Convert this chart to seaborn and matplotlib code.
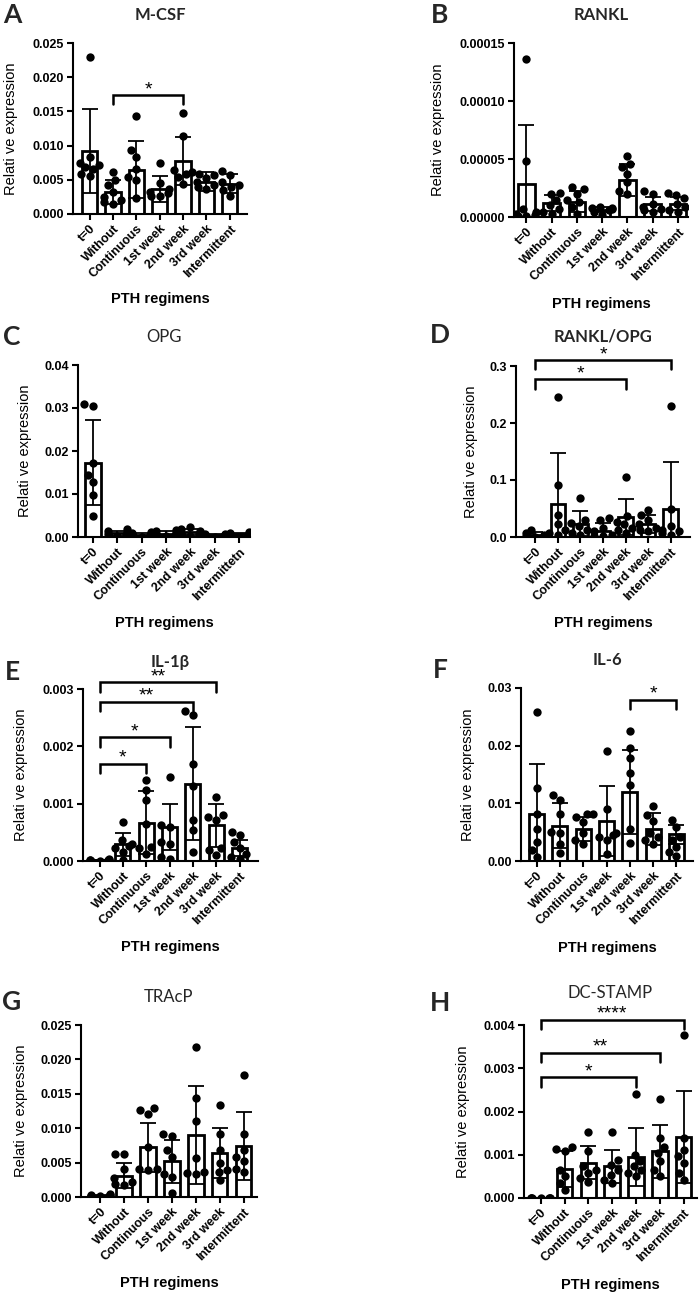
"""PTH regimens - relative gene expression panels (A-H)"""

import matplotlib
matplotlib.use("Agg")
import matplotlib.pyplot as plt
from matplotlib.ticker import MultipleLocator, FormatStrFormatter
import numpy as np
import pandas as pd
import seaborn as sns

# カテゴリ
regimens = ["t=0", "Without", "Continuous", "1st week", "2nd week", "3rd week", "Intermittent"]
regimens_opg = ["t=0", "Without", "Continuous", "1st week", "2nd week", "3rd week", "Intermittetn"]

# A: M-CSF
mcsf_points = [
    [0.0230, 0.0083, 0.0075, 0.0072, 0.0069, 0.0066, 0.0058, 0.0055],
    [0.0061, 0.0049, 0.0042, 0.0032, 0.0025, 0.0020, 0.0018, 0.0015],
    [0.0144, 0.0093, 0.0083, 0.0066, 0.0054, 0.0049, 0.0023],
    [0.0075, 0.0045, 0.0037, 0.0032, 0.0030, 0.0027, 0.0027],
    [0.0148, 0.0114, 0.0064, 0.0061, 0.0059, 0.0054, 0.0044],
    [0.0059, 0.0057, 0.0052, 0.0047, 0.0042, 0.0040, 0.0037],
    [0.0063, 0.0057, 0.0047, 0.0042, 0.0040, 0.0035, 0.0027],
]
mcsf_mean = [0.0092, 0.0032, 0.0065, 0.0037, 0.0078, 0.0047, 0.0044]
mcsf_sd = [0.0062, 0.0018, 0.0042, 0.0019, 0.0035, 0.0014, 0.0014]
mcsf_sig = [(1, 4, 0.0174, "*")]

# B: RANKL
rankl_points = [
    [1.36e-4, 4.85e-5, 7e-6, 4e-6, 3e-6, 1.5e-6, 1e-6, 5e-7],
    [2.1e-5, 2.0e-5, 1.45e-5, 1.0e-5, 7e-6, 4e-6, 3e-6],
    [2.6e-5, 2.45e-5, 2.0e-5, 1.45e-5, 1.3e-5, 8.7e-6, 2.9e-6],
    [9e-6, 8e-6, 7.5e-6, 7e-6, 6e-6, 4e-6, 2e-6],
    [5.3e-5, 4.6e-5, 4.3e-5, 3.75e-5, 3.0e-5, 2.2e-5, 2.0e-5],
    [2.25e-5, 2.0e-5, 1.15e-5, 8.7e-6, 7e-6, 5.8e-6, 4.3e-6],
    [2.1e-5, 1.9e-5, 1.6e-5, 1.15e-5, 8.7e-6, 5.8e-6, 4.3e-6],
]
rankl_mean = [2.83e-5, 1.2e-5, 1.3e-5, 6.3e-6, 3.2e-5, 1.1e-5, 1.15e-5]
rankl_sd = [5.1e-5, 7e-6, 9e-6, 2.4e-6, 1.4e-5, 6e-6, 5.5e-6]
rankl_sig = []

# C: OPG
opg_points = [
    [0.0310, 0.0305, 0.0173, 0.0145, 0.0129, 0.0097, 0.0048],
    [0.0018, 0.0015, 0.0012, 0.0008, 0.0005, 0.0003, 0.0002],
    [0.0011, 0.0009, 0.0007, 0.0005, 0.0004, 0.0002, 0.0001],
    [0.0017, 0.0014, 0.0010, 0.0008, 0.0005, 0.0003, 0.0002],
    [0.0023, 0.0018, 0.0013, 0.0010, 0.0007, 0.0004, 0.0002],
    [0.0008, 0.0006, 0.0005, 0.0004, 0.0003, 0.0002, 0.0001],
    [0.0012, 0.0010, 0.0008, 0.0005, 0.0003, 0.0002, 0.0001],
]
opg_mean = [0.0173, 0.0009, 0.0005, 0.0008, 0.0011, 0.0004, 0.0006]
opg_sd = [0.0099, 0.0006, 0.0004, 0.0005, 0.0007, 0.0002, 0.0004]
opg_sig = []

# D: RANKL/OPG
ratio_points = [
    [0.013, 0.007, 0.004, 0.002, 0.001, 0.0005, 0.0003],
    [0.246, 0.092, 0.039, 0.022, 0.013, 0.007, 0.004],
    [0.068, 0.030, 0.025, 0.019, 0.013, 0.007, 0.004],
    [0.034, 0.030, 0.016, 0.010, 0.004, 0.002, 0.001],
    [0.106, 0.036, 0.027, 0.022, 0.016, 0.013, 0.007],
    [0.048, 0.039, 0.030, 0.022, 0.016, 0.013, 0.010],
    [0.230, 0.049, 0.019, 0.013, 0.010, 0.007, 0.004],
]
ratio_mean = [0.004, 0.058, 0.023, 0.011, 0.035, 0.023, 0.050]
ratio_sd = [0.004, 0.089, 0.022, 0.013, 0.032, 0.016, 0.081]
ratio_sig = [(0, 4, 0.2767, "*"), (0, 6, 0.3105, "*")]

# E: IL-1β
il1b_points = [
    [0.00003, 0.00002, 0.00002, 0.00001, 0.00001, 0.000005, 0.000003],
    [0.00068, 0.00036, 0.00030, 0.00027, 0.00022, 0.00016, 0.00001],
    [0.00141, 0.00124, 0.00106, 0.00065, 0.00025, 0.00022, 0.00013],
    [0.00147, 0.00062, 0.00060, 0.00033, 0.00030, 0.00007, 0.00004],
    [0.00261, 0.00255, 0.00170, 0.00130, 0.00071, 0.00054, 0.00016],
    [0.00112, 0.00080, 0.00077, 0.00071, 0.00022, 0.00019, 0.00010],
    [0.00051, 0.00045, 0.00033, 0.00022, 0.00013, 0.00007, 0.00004],
]
il1b_mean = [0.00001, 0.00029, 0.000665, 0.0006, 0.00135, 0.00062, 0.00023]
il1b_sd = [0.00001, 0.0002, 0.00055, 0.0004, 0.00098, 0.00037, 0.00014]
il1b_sig = [(0, 2, 0.0017, "*"), (0, 3, 0.00216, "*"), (0, 4, 0.00278, "**"), (0, 5, 0.00312, "**")]

# F: IL-6
il6_points = [
    [0.0259, 0.0126, 0.0082, 0.0055, 0.0033, 0.0019, 0.0007],
    [0.0114, 0.0106, 0.0082, 0.0050, 0.0048, 0.0030, 0.0014],
    [0.0082, 0.0081, 0.0077, 0.0068, 0.0048, 0.0036, 0.0030],
    [0.0191, 0.0091, 0.0048, 0.0045, 0.0042, 0.0036, 0.0013],
    [0.0226, 0.0196, 0.0178, 0.0152, 0.0131, 0.0056, 0.0031],
    [0.0095, 0.0080, 0.0070, 0.0048, 0.0042, 0.0036, 0.0030],
    [0.0071, 0.0059, 0.0042, 0.0036, 0.0024, 0.0016, 0.0008],
]
il6_mean = [0.0081, 0.0061, 0.0056, 0.0069, 0.0120, 0.0056, 0.0046]
il6_sd = [0.0088, 0.0039, 0.0021, 0.0061, 0.0073, 0.0028, 0.0016]
il6_sig = [(4, 6, 0.0280, "*")]

# G: TRAcP
tracp_points = [
    [0.0004, 0.0003, 0.0003, 0.0002, 0.0002, 0.0001, 0.0001],
    [0.0063, 0.0062, 0.0040, 0.0027, 0.0022, 0.0019, 0.0017],
    [0.0129, 0.0126, 0.0120, 0.0073, 0.0041, 0.0040, 0.0039],
    [0.0091, 0.0089, 0.0068, 0.0058, 0.0034, 0.0029, 0.0006],
    [0.0218, 0.0144, 0.0110, 0.0056, 0.0036, 0.0035, 0.0034],
    [0.0134, 0.0091, 0.0068, 0.0049, 0.0039, 0.0036, 0.0024],
    [0.0178, 0.0091, 0.0068, 0.0058, 0.0053, 0.0041, 0.0036],
]
tracp_mean = [0.0002, 0.0031, 0.0072, 0.0052, 0.0090, 0.0064, 0.0074]
tracp_sd = [0.0001, 0.0018, 0.0036, 0.0031, 0.0071, 0.0036, 0.0050]
tracp_sig = []

# H: DC-STAMP
dcstamp_points = [
    [0.00001, 0.000008, 0.000006, 0.000005, 0.000003, 0.000002, 0.000001],
    [0.00117, 0.00113, 0.00108, 0.00065, 0.00050, 0.00035, 0.00019],
    [0.00152, 0.00108, 0.00073, 0.00065, 0.00058, 0.00046, 0.00038],
    [0.00152, 0.00088, 0.00077, 0.00065, 0.00054, 0.00042, 0.00035],
    [0.00240, 0.00100, 0.00085, 0.00073, 0.00065, 0.00058, 0.00050],
    [0.00229, 0.00138, 0.00119, 0.00104, 0.00085, 0.00065, 0.00050],
    [0.00378, 0.00138, 0.00112, 0.00096, 0.00081, 0.00058, 0.00042],
]
dcstamp_mean = [0.000005, 0.00067, 0.00082, 0.00073, 0.00095, 0.00108, 0.00141]
dcstamp_sd = [0.000003, 0.00041, 0.00039, 0.00039, 0.00067, 0.00061, 0.00107]
dcstamp_sig = [(0, 4, 0.00279, "*"), (0, 5, 0.00336, "**"), (0, 6, 0.00412, "****")]

# スタイル
sns.set_theme(style="ticks")
plt.rcParams["font.family"] = ["Liberation Sans", "DejaVu Sans"]
plt.rcParams["axes.linewidth"] = 1.5
plt.rcParams["axes.edgecolor"] = "black"

W, H = 699, 1292
fig = plt.figure(figsize=(W / 100, H / 100), dpi=100)

# box = (left, top, right, bottom) in pixels
panels = [
    dict(letter="A", title="M-CSF", bold=True, cats=regimens, pts=mcsf_points, mean=mcsf_mean,
         sd=mcsf_sd, sig=mcsf_sig, ymax=0.025, step=0.005, fmt="%.3f",
         box=(73, 43, 247, 214), xlim=(-0.71, 6.74), ylab_x=18, title_y=15, let=(12, 15)),
    dict(letter="B", title="RANKL", bold=True, cats=regimens, pts=rankl_points, mean=rankl_mean,
         sd=rankl_sd, sig=rankl_sig, ymax=0.00015, step=0.00005, fmt="%.5f",
         box=(514, 43, 688, 217), xlim=(-0.49, 6.4), ylab_x=445, title_y=15, let=(440, 15)),
    dict(letter="C", title="OPG", bold=False, cats=regimens_opg, pts=opg_points, mean=opg_mean,
         sd=opg_sd, sig=opg_sig, ymax=0.04, step=0.01, fmt="%.2f",
         box=(78, 365, 250, 537), xlim=(-0.61, 6.44), ylab_x=32, title_y=337, let=(12, 337)),
    dict(letter="D", title="RANKL/OPG", bold=True, cats=regimens, pts=ratio_points, mean=ratio_mean,
         sd=ratio_sd, sig=ratio_sig, ymax=0.3, step=0.1, fmt="%.1f",
         box=(516, 366, 690, 537), xlim=(-0.86, 6.86), ylab_x=478, title_y=337, let=(440, 335)),
    dict(letter="E", title="IL-1β", bold=True, cats=regimens, pts=il1b_points, mean=il1b_mean,
         sd=il1b_sd, sig=il1b_sig, ymax=0.003, step=0.001, fmt="%.3f",
         box=(83, 689, 258, 861), xlim=(-0.71, 6.79), ylab_x=28, title_y=662, let=(12, 672)),
    dict(letter="F", title="IL-6", bold=True, cats=regimens, pts=il6_points, mean=il6_mean,
         sd=il6_sd, sig=il6_sig, ymax=0.03, step=0.01, fmt="%.2f",
         box=(521, 688, 693, 861), xlim=(-0.67, 6.71), ylab_x=475, title_y=660, let=(440, 670)),
    dict(letter="G", title="TRAcP", bold=False, cats=regimens, pts=tracp_points, mean=tracp_mean,
         sd=tracp_sd, sig=tracp_sig, ymax=0.025, step=0.005, fmt="%.3f",
         box=(81, 1025, 257, 1197), xlim=(-0.8, 6.56), ylab_x=28, title_y=997, let=(12, 1002)),
    dict(letter="H", title="DC-STAMP", bold=False, cats=regimens, pts=dcstamp_points, mean=dcstamp_mean,
         sd=dcstamp_sd, sig=dcstamp_sig, ymax=0.004, step=0.001, fmt="%.3f",
         box=(524, 1025, 697, 1198), xlim=(-0.7, 6.56), ylab_x=470, title_y=993, let=(440, 1003)),
]


def draw_panel(p):
    l, t, r, b = p["box"]
    ax = fig.add_axes([l / W, 1 - b / H, (r - l) / W, (b - t) / H])
    df = pd.DataFrame({
        "regimen": [c for c, vals in zip(p["cats"], p["pts"]) for _ in vals],
        "value": [v for vals in p["pts"] for v in vals],
    })
    sns.barplot(x=p["cats"], y=p["mean"], order=p["cats"], color="white", saturation=1,
                edgecolor="black", linewidth=2.0, width=0.65, errorbar=None, ax=ax, zorder=2)
    sns.swarmplot(data=df, x="regimen", y="value", order=p["cats"], color="black", size=6,
                  warn_thresh=1, ax=ax, zorder=3)
    ax.errorbar(np.arange(len(p["cats"])), p["mean"], yerr=p["sd"], fmt="none", ecolor="black",
                elinewidth=1.3, capsize=6, capthick=1.3, zorder=4)

    ymax = p["ymax"]
    ax.set_xlim(*p["xlim"])
    ax.set_ylim(0, ymax)
    ax.yaxis.set_major_locator(MultipleLocator(p["step"]))
    ax.yaxis.set_major_formatter(FormatStrFormatter(p["fmt"]))
    sns.despine(ax=ax)
    ax.tick_params(direction="out", length=4.5, width=1.5, labelsize=9, colors="black", pad=2)
    for lab in ax.get_yticklabels():
        lab.set_fontweight("bold")
    ax.set_xticks(range(len(p["cats"])))
    ax.set_xticklabels(p["cats"], rotation=45, ha="right", rotation_mode="anchor", fontweight="bold")

    ax.set_ylabel("Relati ve expression", fontsize=10.5, color="black")
    ax.yaxis.set_label_coords((p["ylab_x"] - l) / (r - l), 0.5)
    ax.set_xlabel("PTH regimens", fontsize=10.5, fontweight="bold", color="black")
    ax.xaxis.label.set_va("center")
    ax.xaxis.set_label_coords(0.5, -0.5)

    # 有意差ブラケット
    for i, j, y, label in p["sig"]:
        drop = 0.055 * ymax
        ax.plot([i, i, j, j], [y - drop, y, y, y - drop], color="black", lw=1.8,
                clip_on=False, zorder=5, solid_joinstyle="miter")
        ax.text((i + j) / 2, y + 0.005 * ymax, label, ha="center", va="baseline",
                fontsize=14, color="black", clip_on=False)

    fig.text((l + r) / 2 / W, 1 - p["title_y"] / H, p["title"], ha="center", va="center",
             fontsize=12, fontweight="bold" if p["bold"] else "normal",
             family=["Lato", "DejaVu Sans"])
    fig.text(p["let"][0] / W, 1 - p["let"][1] / H, p["letter"], ha="center", va="center",
             fontsize=19, fontweight="bold", family=["Lato", "DejaVu Sans"])


for p in panels:
    draw_panel(p)

fig.savefig("out.png", dpi=100)
